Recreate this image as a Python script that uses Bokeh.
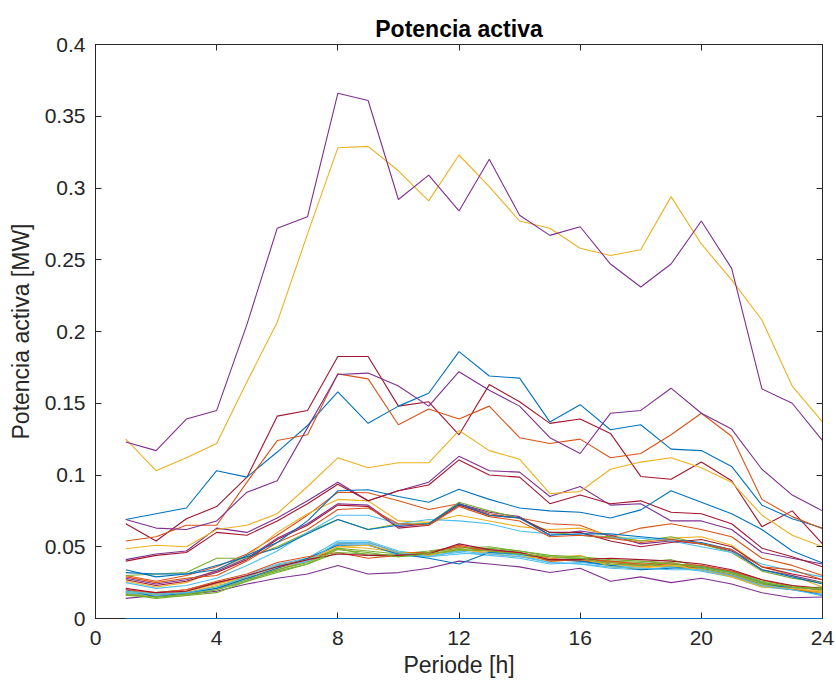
from bokeh.plotting import figure
from bokeh.models import FixedTicker, LinearAxis, Range1d
from bokeh.embed import file_html
from bokeh.resources import INLINE

hours = list(range(1, 25))

colors = ["#0072BD", "#D95319", "#EDB120", "#7E2F8E", "#77AC30", "#4DBEEE", "#A2142F"]

x_ticks = [0, 4, 8, 12, 16, 20, 24]
y_ticks = [0, 0.05, 0.1, 0.15, 0.2, 0.25, 0.3, 0.35, 0.4]
y_tick_labels = ["0", "0.05", "0.1", "0.15", "0.2", "0.25", "0.3", "0.35", "0.4"]

bus01 = [0.0] * 24
bus02 = [0.030,0.026,0.030,0.036,0.045,0.058,0.072,0.088,0.0876,0.082,0.076,0.080,0.073,0.070,0.066,0.065,0.057,0.063,0.066,0.062,0.057,0.042,0.037,0.030]
bus03 = [0.026,0.022,0.025,0.034,0.043,0.060,0.073,0.083,0.082,0.068,0.067,0.072,0.068,0.064,0.062,0.063,0.058,0.054,0.056,0.057,0.051,0.036,0.030,0.022]
bus04 = [0.041,0.045,0.047,0.063,0.060,0.070,0.082,0.095,0.082,0.089,0.095,0.113,0.103,0.102,0.085,0.092,0.079,0.080,0.068,0.068,0.062,0.046,0.042,0.038]
bus05 = [0.018,0.017,0.018,0.022,0.028,0.034,0.040,0.049,0.047,0.045,0.047,0.050,0.048,0.046,0.041,0.042,0.040,0.039,0.041,0.036,0.033,0.026,0.023,0.019]
bus06 = [0.017,0.016,0.019,0.024,0.030,0.038,0.042,0.054,0.054,0.047,0.044,0.046,0.044,0.042,0.038,0.039,0.037,0.036,0.037,0.035,0.031,0.025,0.021,0.018]
bus07 = [0.066,0.054,0.0695,0.078,0.0985,0.141,0.145,0.1826,0.1826,0.148,0.151,0.128,0.163,0.151,0.136,0.139,0.129,0.099,0.097,0.109,0.096,0.064,0.075,0.052]
bus08 = [0.069,0.073,0.077,0.103,0.0985,0.116,0.1345,0.158,0.136,0.148,0.157,0.186,0.169,0.1675,0.137,0.149,0.1315,0.135,0.118,0.117,0.106,0.079,0.0695,0.063]
bus09 = [0.019,0.018,0.020,0.025,0.029,0.037,0.041,0.052,0.053,0.046,0.046,0.051,0.047,0.046,0.042,0.040,0.039,0.037,0.038,0.037,0.033,0.027,0.022,0.020]
bus10 = [0.016,0.017,0.018,0.023,0.028,0.035,0.040,0.050,0.049,0.046,0.045,0.048,0.046,0.045,0.040,0.041,0.038,0.036,0.037,0.035,0.031,0.024,0.021,0.019]
bus11 = [0.014,0.016,0.017,0.019,0.024,0.028,0.031,0.037,0.031,0.032,0.035,0.040,0.038,0.036,0.032,0.035,0.026,0.029,0.025,0.028,0.024,0.018,0.0145,0.015]
bus12 = [0.017,0.014,0.016,0.018,0.026,0.034,0.039,0.049,0.044,0.043,0.045,0.047,0.049,0.047,0.043,0.042,0.039,0.038,0.036,0.034,0.030,0.024,0.021,0.022]
bus13 = [0.018,0.016,0.017,0.021,0.027,0.036,0.040,0.052,0.052,0.044,0.043,0.045,0.046,0.044,0.039,0.038,0.035,0.034,0.036,0.033,0.029,0.022,0.020,0.017]
bus14 = [0.040,0.044,0.046,0.060,0.058,0.068,0.080,0.0935,0.082,0.089,0.093,0.1105,0.100,0.0985,0.080,0.086,0.080,0.082,0.074,0.073,0.066,0.049,0.043,0.036]
bus15 = [0.020,0.015,0.018,0.021,0.028,0.035,0.042,0.051,0.051,0.045,0.042,0.038,0.046,0.045,0.041,0.040,0.037,0.034,0.035,0.036,0.032,0.025,0.021,0.016]
bus16 = [0.020,0.018,0.020,0.026,0.031,0.039,0.043,0.046,0.042,0.044,0.046,0.050,0.047,0.046,0.040,0.041,0.040,0.038,0.039,0.034,0.030,0.023,0.020,0.018]
bus17 = [0.019,0.017,0.019,0.024,0.029,0.036,0.041,0.050,0.051,0.046,0.044,0.049,0.045,0.043,0.042,0.044,0.036,0.035,0.037,0.034,0.029,0.022,0.021,0.018]
bus18 = [0.028,0.024,0.027,0.033,0.042,0.056,0.066,0.080,0.079,0.064,0.066,0.080,0.074,0.071,0.058,0.061,0.058,0.052,0.054,0.052,0.047,0.034,0.030,0.025]
bus19 = [0.030,0.031,0.032,0.042,0.042,0.050,0.060,0.069,0.062,0.066,0.066,0.081,0.075,0.070,0.060,0.058,0.057,0.054,0.057,0.052,0.046,0.033,0.028,0.025]
bus20 = [0.025,0.021,0.023,0.028,0.037,0.047,0.060,0.072,0.072,0.066,0.069,0.068,0.066,0.061,0.059,0.058,0.056,0.056,0.054,0.050,0.046,0.038,0.033,0.029]
bus21 = [0.027,0.023,0.026,0.032,0.041,0.055,0.065,0.079,0.078,0.063,0.065,0.079,0.072,0.070,0.060,0.060,0.054,0.050,0.053,0.055,0.050,0.036,0.031,0.027]
bus22 = [0.032,0.031,0.031,0.037,0.043,0.049,0.059,0.069,0.062,0.065,0.066,0.080,0.072,0.070,0.058,0.059,0.059,0.057,0.055,0.053,0.048,0.034,0.029,0.024]
bus23 = [0.029,0.025,0.028,0.030,0.040,0.053,0.062,0.076,0.077,0.066,0.065,0.078,0.071,0.068,0.057,0.058,0.056,0.053,0.055,0.052,0.048,0.036,0.034,0.027]
bus24 = [0.125,0.103,0.112,0.122,0.165,0.2065,0.268,0.328,0.329,0.312,0.291,0.323,0.301,0.277,0.272,0.258,0.253,0.257,0.294,0.261,0.236,0.208,0.162,0.137]
bus25 = [0.123,0.117,0.139,0.145,0.205,0.272,0.280,0.366,0.361,0.292,0.309,0.284,0.320,0.281,0.267,0.273,0.247,0.231,0.247,0.277,0.244,0.160,0.150,0.124]
bus26 = [0.016,0.015,0.016,0.020,0.026,0.032,0.038,0.046,0.045,0.044,0.046,0.049,0.050,0.047,0.044,0.043,0.041,0.040,0.038,0.036,0.032,0.025,0.022,0.020]
bus27 = [0.019,0.017,0.018,0.022,0.029,0.037,0.040,0.053,0.053,0.046,0.043,0.047,0.045,0.043,0.039,0.038,0.036,0.035,0.034,0.034,0.030,0.023,0.020,0.016]
bus28 = [0.021,0.018,0.019,0.025,0.030,0.036,0.041,0.045,0.044,0.044,0.045,0.052,0.048,0.046,0.041,0.041,0.042,0.041,0.040,0.038,0.034,0.027,0.023,0.021]
bus29 = [0.034,0.029,0.031,0.034,0.044,0.053,0.068,0.089,0.0897,0.085,0.081,0.090,0.083,0.077,0.075,0.074,0.070,0.0757,0.089,0.081,0.073,0.062,0.047,0.0386]
bus30 = [0.054,0.057,0.065,0.065,0.095,0.124,0.128,0.1705,0.167,0.135,0.146,0.139,0.148,0.126,0.122,0.125,0.112,0.115,0.128,0.143,0.127,0.083,0.071,0.0625]
bus31 = [0.0486,0.051,0.050,0.062,0.065,0.073,0.092,0.112,0.105,0.1085,0.1085,0.131,0.117,0.111,0.087,0.0885,0.104,0.109,0.112,0.105,0.095,0.072,0.058,0.050]
bus32 = [0.069,0.063,0.062,0.068,0.088,0.096,0.133,0.170,0.171,0.162,0.148,0.172,0.159,0.148,0.126,0.115,0.143,0.145,0.1605,0.143,0.132,0.104,0.086,0.075]
bus33 = [0.017,0.015,0.017,0.020,0.027,0.033,0.038,0.048,0.046,0.043,0.045,0.048,0.047,0.045,0.043,0.042,0.038,0.037,0.039,0.035,0.031,0.025,0.022,0.021]

series = [bus01, bus02, bus03, bus04, bus05, bus06, bus07, bus08, bus09, bus10, bus11,
          bus12, bus13, bus14, bus15, bus16, bus17, bus18, bus19, bus20, bus21, bus22,
          bus23, bus24, bus25, bus26, bus27, bus28, bus29, bus30, bus31, bus32, bus33]

FONT = "Liberation Sans"
TXT = "#262626"

p = figure(width=836, height=690, output_backend="svg", toolbar_location=None,
           x_range=Range1d(0, 24), y_range=Range1d(0, 0.4),
           min_border_left=95, min_border_right=14, min_border_top=44, min_border_bottom=72,
           title="Potencia activa")
p.title.align = "center"
p.title.text_font = FONT
p.title.text_font_size = "23px"
p.title.text_font_style = "bold"
p.title.text_color = "#000000"
p.title.standoff = 5

p.xgrid.visible = False
p.ygrid.visible = False
p.outline_line_color = TXT
p.outline_line_width = 1
p.background_fill_color = "white"
p.border_fill_color = "white"

for i, s in enumerate(series):
    r = p.line(hours, s, line_color=colors[i % 7], line_width=1.1)
    if i == 0:
        r.level = "overlay"

p.xaxis.ticker = FixedTicker(ticks=x_ticks)
p.yaxis.ticker = FixedTicker(ticks=y_ticks)
p.yaxis.major_label_overrides = {t: l for t, l in zip(y_ticks, y_tick_labels)}
p.xaxis.axis_label = "Periode [h]"
p.yaxis.axis_label = "Potencia activa [MW]"

for ax in [p.xaxis[0], p.yaxis[0]]:
    ax.major_tick_in = 6
    ax.major_tick_out = 0
    ax.minor_tick_in = 0
    ax.minor_tick_out = 0
    ax.axis_line_color = TXT
    ax.major_tick_line_color = TXT
    ax.major_label_text_font = FONT
    ax.major_label_text_font_size = "21px"
    ax.major_label_text_color = TXT
    ax.axis_label_text_font = FONT
    ax.axis_label_text_font_size = "23px"
    ax.axis_label_text_font_style = "normal"
    ax.axis_label_text_color = TXT
p.yaxis.major_label_standoff = 10
p.xaxis.major_label_standoff = 12
p.yaxis.axis_label_standoff = 8
p.xaxis.axis_label_standoff = 4

ra = LinearAxis(ticker=FixedTicker(ticks=y_ticks), major_label_text_font_size="1px",
                major_label_text_color=None,
                major_tick_in=6, major_tick_out=0, minor_tick_in=0, minor_tick_out=0,
                axis_line_color=TXT, major_tick_line_color=TXT, major_label_standoff=0)
ta = LinearAxis(ticker=FixedTicker(ticks=x_ticks), major_label_text_font_size="1px",
                major_label_text_color=None,
                major_tick_in=6, major_tick_out=0, minor_tick_in=0, minor_tick_out=0,
                axis_line_color=TXT, major_tick_line_color=TXT, major_label_standoff=0)
p.add_layout(ra, "right")
p.add_layout(ta, "above")

open("out.html", "w").write(file_html(p, INLINE))
